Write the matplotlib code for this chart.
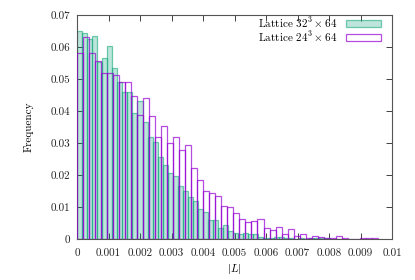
import numpy as np
import matplotlib
matplotlib.use("Agg")
import matplotlib.pyplot as plt

# ---- data ----
labels = [r"Lattice $32^3\times64$", r"Lattice $24^3\times64$"]
bin_width_32 = 0.000160
bin_width_24 = 0.000191
freq_32 = [0.0651, 0.0643, 0.0625, 0.0633, 0.0554, 0.0565, 0.0604, 0.0535, 0.0490, 0.0460,
           0.0458, 0.0393, 0.0432, 0.0365, 0.0318, 0.0302, 0.0255, 0.0230, 0.0206, 0.0196,
           0.0165, 0.0150, 0.0130, 0.0120, 0.0095, 0.0085, 0.0060, 0.0060, 0.0034, 0.0044,
           0.0026, 0.0020, 0.0015, 0.0018, 0.0015, 0.0015, 0.0006, 0.0004, 0.0003, 0.0005,
           0.0007, 0.0003, 0.0002, 0.0001, 0.0003, 0.0001, 0.0002, 0.0002, 0.0003, 0.0002,
           0.0001, 0.0001]
freq_24 = [0.0580, 0.0630, 0.0580, 0.0555, 0.0518, 0.0520, 0.0512, 0.0492, 0.0490, 0.0448,
           0.0388, 0.0442, 0.0384, 0.0320, 0.0354, 0.0300, 0.0320, 0.0278, 0.0294, 0.0221,
           0.0184, 0.0151, 0.0143, 0.0134, 0.0103, 0.0101, 0.0080, 0.0063, 0.0053, 0.0055,
           0.0062, 0.0033, 0.0028, 0.0037, 0.0015, 0.0030, 0.0009, 0.0015, 0.0004, 0.0010,
           0.0005, 0.0004, 0.0003, 0.0008, 0.0002, 0.0000, 0.0000, 0.0003, 0.0002, 0.0002]
x_ticks = [0, 0.001, 0.002, 0.003, 0.004, 0.005, 0.006, 0.007, 0.008, 0.009, 0.01]
x_tick_labels = ["0", "0.001", "0.002", "0.003", "0.004", "0.005", "0.006", "0.007", "0.008", "0.009", "0.01"]
y_ticks = [0, 0.01, 0.02, 0.03, 0.04, 0.05, 0.06, 0.07]
y_tick_labels = ["0", "0.01", "0.02", "0.03", "0.04", "0.05", "0.06", "0.07"]

plt.rcParams["font.family"] = "serif"
plt.rcParams["font.serif"] = ["cmr10", "DejaVu Serif"]
plt.rcParams["mathtext.fontset"] = "cm"
plt.rcParams["axes.formatter.use_mathtext"] = True

fig = plt.figure(figsize=(4.15, 2.8), dpi=100)
ax = fig.add_axes([77/415, 1-239/280, (392-77)/415, (239-15)/280])

x32 = np.arange(len(freq_32)) * bin_width_32
x24 = np.arange(len(freq_24)) * bin_width_24

ax.bar(x32, freq_32, width=bin_width_32, align="edge",
       facecolor=(0/255, 158/255, 115/255, 0.26), edgecolor=(20/255, 170/255, 125/255, 0.6),
       linewidth=0.9, label=labels[0], zorder=2)
ax.bar(x24, freq_24, width=bin_width_24, align="edge",
       facecolor="none", edgecolor=(148/255, 0, 211/255, 0.7),
       linewidth=0.9, label=labels[1], zorder=3)

ax.set_xlim(0, 0.01)
ax.set_ylim(0, 0.07)
ax.set_xticks(x_ticks)
ax.set_xticklabels(x_tick_labels)
ax.set_yticks(y_ticks)
ax.set_yticklabels(y_tick_labels)
ax.tick_params(direction="in", top=True, right=True, length=4, width=0.6,
               labelsize=8, colors="#222222")
ax.tick_params(axis="x", pad=7)
ax.tick_params(axis="y", pad=5)
for sp in ax.spines.values():
    sp.set_color("#555555")
    sp.set_linewidth(0.8)

ax.set_xlabel(r"$|L|$", fontsize=8, labelpad=3)
ax.set_ylabel("Frequency", fontsize=8, labelpad=12)

leg = ax.legend(loc="upper right", bbox_to_anchor=(0.973, 1.01), frameon=False,
                markerfirst=False, fontsize=8, handlelength=3.2, handleheight=0.6,
                labelspacing=-0.02, handletextpad=0.8, borderaxespad=0.0, borderpad=0.2)
for t in leg.get_texts():
    t.set_ha("right")

fig.savefig("out.png", dpi=100)
